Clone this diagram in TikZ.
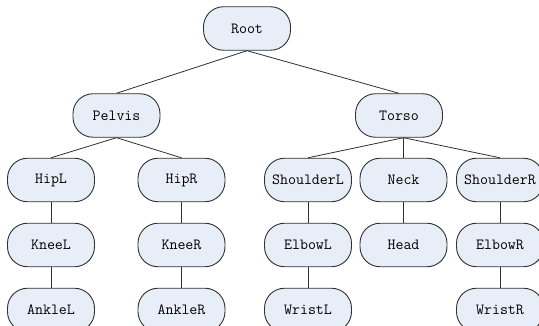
\documentclass[tikz,border=0pt]{standalone}
\usepackage{fontspec}
\definecolor{nodefill}{HTML}{E8EEF8}
\definecolor{edgecol}{HTML}{303030}
\begin{document}
\begin{tikzpicture}[x=1pt,y=1pt,
  joint/.style={draw=edgecol,line width=0.9pt,fill=nodefill,rounded corners=20pt,
    minimum width=87pt,minimum height=43.5pt,inner sep=0pt,
    font=\ttfamily\fontsize{15.5pt}{17pt}\selectfont},
  link/.style={draw=edgecol,line width=0.8pt}]
\useasboundingbox (0,0) rectangle (539,326);
\begin{scope}
\clip (0,0) rectangle (539,326);
\node[joint] (root) at (247,297.5) {Root};
\node[joint] (pelvis) at (116.5,210.5) {Pelvis};
\node[joint] (torso) at (399,210.5) {Torso};
\node[joint] (hipl) at (51,146) {HipL};
\node[joint] (hipr) at (181.5,146) {HipR};
\node[joint] (shl) at (308,146) {ShoulderL};
\node[joint] (neck) at (403.5,146) {Neck};
\node[joint] (shr) at (500,146) {ShoulderR};
\node[joint] (kneel) at (51,81) {KneeL};
\node[joint] (kneer) at (181.5,81) {KneeR};
\node[joint] (elbl) at (308,81) {ElbowL};
\node[joint] (head) at (403.5,81) {Head};
\node[joint] (elbr) at (500,81) {ElbowR};
\node[joint] (anklel) at (51,16) {AnkleL};
\node[joint] (ankler) at (181.5,16) {AnkleR};
\node[joint] (wrl) at (308,16) {WristL};
\node[joint] (wrr) at (500,16) {WristR};
\coordinate (tb) at (neck |- torso.south);
\draw[link] (root.south) -- (pelvis.north);
\draw[link] (root.south) -- (torso.north);
\draw[link] (pelvis.south) -- (hipl.north);
\draw[link] (pelvis.south) -- (hipr.north);
\draw[link] (tb) -- (shl.north);
\draw[link] (tb) -- (neck.north);
\draw[link] (tb) -- (shr.north);
\draw[link] (hipl) -- (kneel);
\draw[link] (kneel) -- (anklel);
\draw[link] (hipr) -- (kneer);
\draw[link] (kneer) -- (ankler);
\draw[link] (shl) -- (elbl);
\draw[link] (elbl) -- (wrl);
\draw[link] (neck) -- (head);
\draw[link] (shr) -- (elbr);
\draw[link] (elbr) -- (wrr);
\end{scope}
\end{tikzpicture}
\end{document}
